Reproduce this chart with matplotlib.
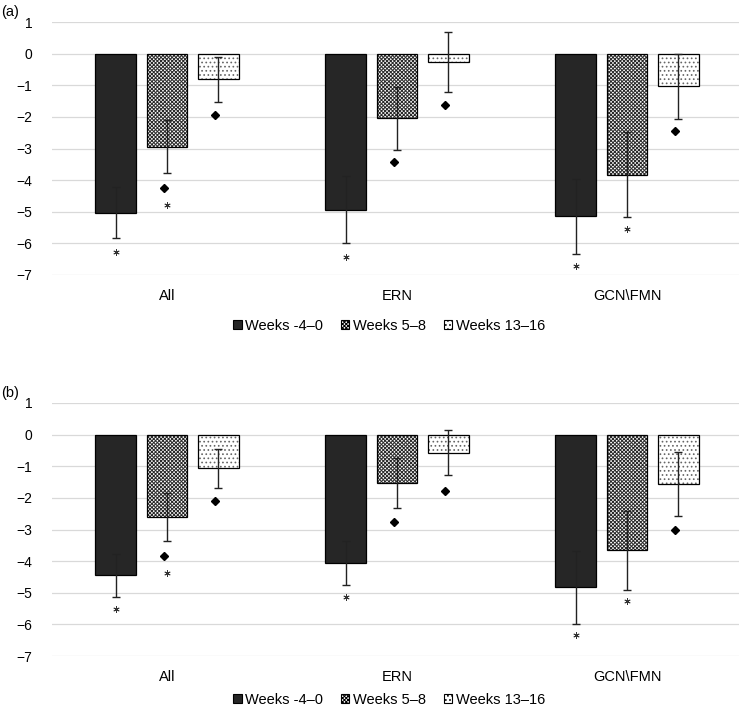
import numpy as np
import matplotlib.pyplot as plt
from matplotlib.patches import Patch

plt.rcParams['font.family'] = ['Liberation Sans', 'DejaVu Sans']
plt.rcParams['hatch.linewidth'] = 0.7

groups = ['All', 'ERN', 'GCN\\FMN']
series = ['Weeks -4\u20130', 'Weeks 5\u20138', 'Weeks 13\u201316']

# panel (a): one row per series, one column per group
a_vals = [[-5.03, -4.93, -5.15], [-2.95, -2.04, -3.83], [-0.81, -0.27, -1.03]]
a_err = [[0.80, 1.05, 1.20], [0.84, 1.00, 1.35], [0.71, 0.95, 1.03]]
a_star = [[-6.28, -6.43, -6.73], [-4.80, np.nan, -5.53], [np.nan, np.nan, np.nan]]
a_diam = [[np.nan, np.nan, np.nan], [-4.25, -3.44, np.nan], [-1.93, -1.62, -2.44]]

# panel (b)
b_vals = [[-4.45, -4.05, -4.83], [-2.60, -1.54, -3.66], [-1.07, -0.57, -1.55]]
b_err = [[0.69, 0.70, 1.16], [0.76, 0.79, 1.26], [0.62, 0.71, 1.01]]
b_star = [[-5.50, -5.15, -6.35], [-4.39, np.nan, -5.26], [np.nan, np.nan, np.nan]]
b_diam = [[np.nan, np.nan, np.nan], [-3.84, -2.77, np.nan], [-2.09, -1.78, -3.00]]

faces = ['#262626', 'white', 'white']
hatches = [None, 'xxxxxxxxx', '....']
hatch_cols = ['black', '#2a2a2a', '#666666']

W, H = 739, 712
fig = plt.figure(figsize=(W / 100, H / 100), dpi=100)

x = np.arange(len(groups))
width = 0.178
step = 0.222


def panel(top_px, vals, errs, stars, diams, label, legend_y):
    ax = fig.add_axes([52 / W, (H - top_px - 253) / H, 687 / W, 253 / H])
    for i in range(3):
        pos = x + (i - 1) * step
        ax.bar(pos, vals[i], width, color=faces[i], hatch=hatches[i],
               edgecolor=hatch_cols[i], linewidth=0, zorder=2)
        ax.bar(pos, vals[i], width, color='none', edgecolor='black',
               linewidth=0.9, zorder=3)
        ax.errorbar(pos, vals[i], yerr=errs[i], fmt='none', ecolor='#222222',
                    elinewidth=1.0, capsize=2.6, capthick=1.0, zorder=4)
        ax.plot(pos, stars[i], ls='none', marker=(6, 2, 0), ms=4.5,
                mew=0.6, color='#333333', zorder=4)
        ax.plot(pos - 0.012, diams[i], ls='none', marker='D', ms=4.2,
                color='black', zorder=4)
    ax.set_ylim(-7, 1)
    ax.set_xlim(-0.5, 2.5 - 3 / 230)
    ax.set_yticks(range(-7, 2))
    ax.set_xticks(x)
    ax.set_xticklabels(groups)
    ax.yaxis.grid(True, color='#d9d9d9', linewidth=0.9, zorder=0)
    ax.set_axisbelow(True)
    for s in ax.spines.values():
        s.set_visible(False)
    ax.tick_params(axis='y', length=0, pad=14, labelsize=10)
    ax.tick_params(axis='x', length=0, pad=10, labelsize=10.5)
    fig.text(1 / W, 1 - (top_px - 10) / H, label, fontsize=10.5,
             ha='left', va='center')
    handles = [Patch(facecolor=faces[i], hatch=hatches[i],
                     edgecolor='black', linewidth=0.8) for i in range(3)]
    fig.legend(handles, series, loc='center', ncol=3, frameon=False,
               bbox_to_anchor=(389 / W, 1 - legend_y / H), fontsize=10.5,
               handlelength=0.6, handleheight=0.6, handletextpad=0.25,
               columnspacing=1.2)
    return ax


panel(22, a_vals, a_err, a_star, a_diam, '(a)', 326)
panel(403, b_vals, b_err, b_star, b_diam, '(b)', 700)

plt.savefig('out.png', dpi=100)
